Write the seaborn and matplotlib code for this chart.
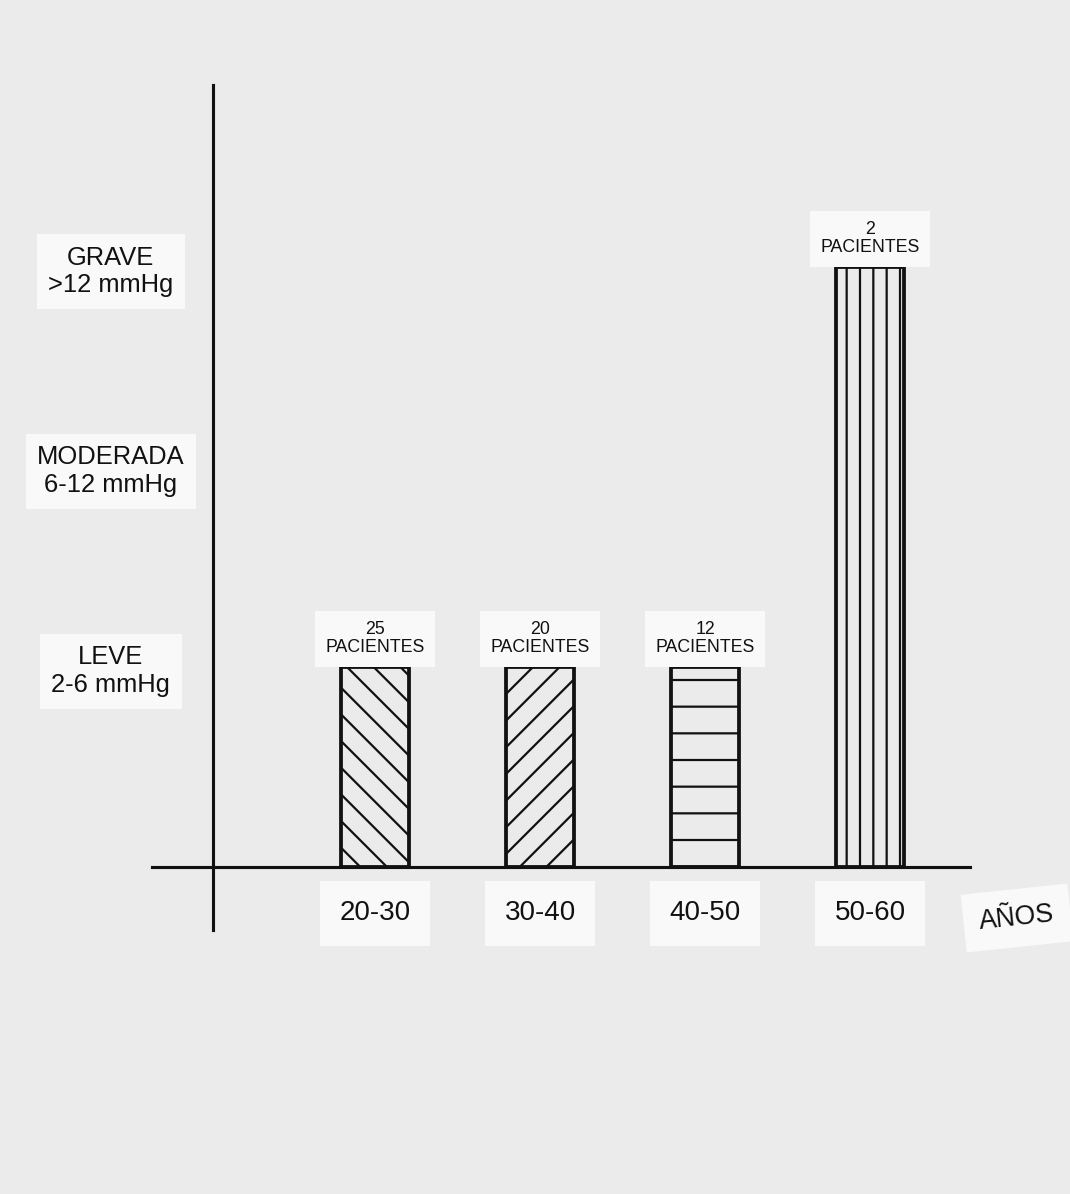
import matplotlib
matplotlib.use("Agg")
import matplotlib.pyplot as plt
import seaborn as sns

# values
age_groups = ["20-30", "30-40", "40-50", "50-60"]
severity_labels = ["LEVE\n2-6 mmHg", "MODERADA\n6-12 mmHg", "GRAVE\n>12 mmHg"]
severity_ticks = [1, 2, 3]
bar_severity = [1, 1, 1, 3]
patients = [25, 20, 12, 2]
hatches = ["\\\\", "//", "-", "||"]

DPI = 160
PAPER = "#ebebeb"
CARD = "#f9f9f9"
INK = "#111111"

sns.set_theme(style="white")
plt.rcParams["font.family"] = ["Liberation Sans", "DejaVu Sans"]
plt.rcParams["text.color"] = INK
plt.rcParams["xtick.color"] = INK
plt.rcParams["ytick.color"] = INK
plt.rcParams["hatch.linewidth"] = 1.0
plt.rcParams["hatch.color"] = "#1a1a1a"

fig = plt.figure(figsize=(1070 / DPI, 1194 / DPI), dpi=DPI, facecolor=PAPER)
ax = fig.add_axes([152 / 1070, 264 / 1194, 818 / 1070, 845 / 1194])
ax.set_facecolor("none")

sns.barplot(x=age_groups, y=bar_severity, color="white", width=0.41,
            edgecolor=INK, linewidth=1.7, ax=ax)

for patch, h in zip(ax.patches, hatches):
    patch.set_facecolor("none")
    patch.set_hatch(h)

ax.set_xlim(-1.352, 3.606)
ax.set_ylim(-0.315, 3.91)

# hand-drawn axes: y axis left of the first bar, x axis at zero
for side in ["top", "right"]:
    ax.spines[side].set_visible(False)
ax.spines["left"].set_position(("data", -0.982))
ax.spines["bottom"].set_position(("data", 0))
for side in ["left", "bottom"]:
    ax.spines[side].set_color(INK)
    ax.spines[side].set_linewidth(1.4)

card = dict(boxstyle="square,pad=0.45", facecolor=CARD, edgecolor="none")

ax.set_yticks(severity_ticks)
ax.set_yticklabels(severity_labels)
ax.tick_params(axis="y", direction="inout", length=6, width=1.3,
               color=INK, pad=43, labelsize=11.5, labelcolor=INK)
for lbl in ax.get_yticklabels():
    lbl.set_ha("center")
    lbl.set_multialignment("center")
    lbl.set_bbox(card)

ax.tick_params(axis="x", length=0, pad=15, labelsize=12.5, labelcolor=INK)
for lbl in ax.get_xticklabels():
    lbl.set_bbox(dict(boxstyle="square,pad=0.7", facecolor=CARD, edgecolor="none"))

ax.set_xlabel("")
ax.set_ylabel("")

for i, (v, n) in enumerate(zip(bar_severity, patients)):
    ax.annotate(f"{n}\nPACIENTES", xy=(i, v), xytext=(0, 5),
                textcoords="offset points", ha="center", va="bottom",
                fontsize=8, linespacing=1.05, color=INK,
                bbox=dict(boxstyle="square,pad=0.6", facecolor=CARD, edgecolor="none"))

fig.text(1017 / 1070, 1 - 918 / 1194, "AÑOS", ha="center", va="center",
         fontsize=12, rotation=6, color=INK,
         bbox=dict(boxstyle="square,pad=0.6", facecolor=CARD, edgecolor="none"))

fig.savefig("out.png", dpi=DPI, facecolor=PAPER)
